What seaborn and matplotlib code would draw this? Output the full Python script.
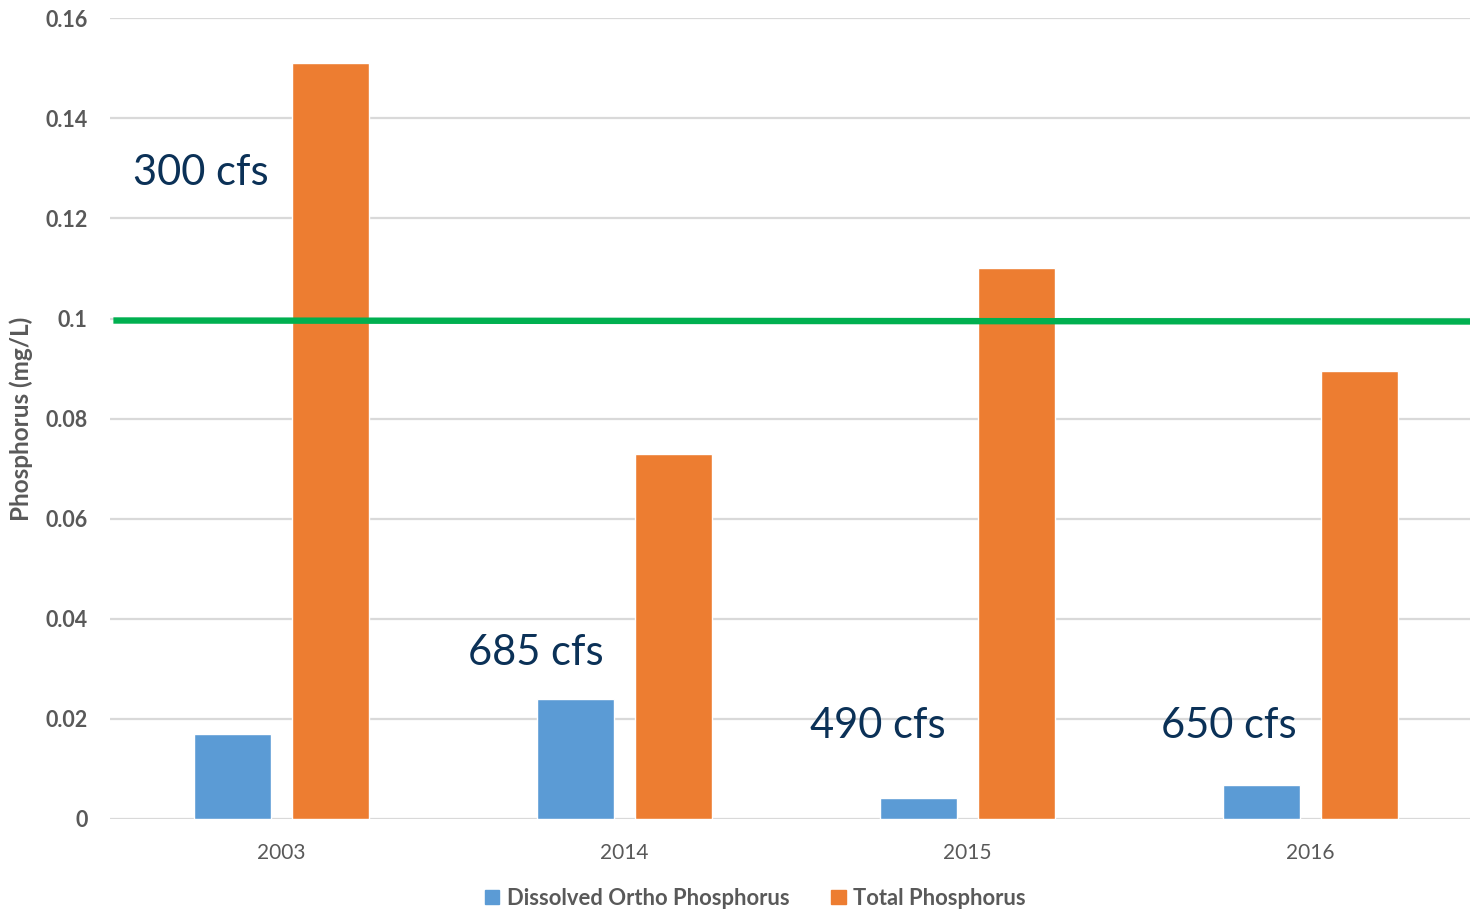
import matplotlib

matplotlib.use("Agg")
import matplotlib.pyplot as plt
import pandas as pd
import seaborn as sns

# --- data -------------------------------------------------------------------
YEARS = ["2003", "2014", "2015", "2016"]
DISSOLVED = [0.017, 0.024, 0.0042, 0.0068]
TOTAL = [0.151, 0.073, 0.110, 0.0896]
FLOWS = ["300 cfs", "685 cfs", "490 cfs", "650 cfs"]
FLOW_Y = [0.1290, 0.0332, 0.0186, 0.0186]
FLOW_X = [-0.236, -0.257, -0.26, -0.239]  # offset from category centre
STANDARD = 0.0995
SERIES = ["Dissolved Ortho Phosphorus", "Total Phosphorus"]
COLORS = ["#5B9BD5", "#ED7D31"]


def main() -> None:
    sns.set_theme(style="white")
    plt.rcParams["font.family"] = ["Lato", "DejaVu Sans"]

    df = pd.DataFrame({
        "year": YEARS * 2,
        "value": DISSOLVED + TOTAL,
        "series": [SERIES[0]] * len(YEARS) + [SERIES[1]] * len(YEARS),
    })

    fig = plt.figure(figsize=(14.7, 9.11), dpi=100)
    # right edge runs a little past the canvas, as in the reference
    ax = fig.add_axes([0.0748, 0.101, 0.9333, 0.879])

    sns.barplot(data=df, x="year", y="value", hue="series", palette=COLORS,
                saturation=1, width=0.57, gap=0.212, ax=ax, legend=False,
                zorder=3)

    ax.set_xlim(-0.5, len(YEARS) - 0.5)
    ax.set_ylim(0, 0.16)
    ax.set_yticks([0, 0.02, 0.04, 0.06, 0.08, 0.1, 0.12, 0.14, 0.16])
    ax.set_yticklabels(["0", "0.02", "0.04", "0.06", "0.08", "0.1",
                        "0.12", "0.14", "0.16"])
    ax.grid(axis="y", color="#D9D9D9", linewidth=1.6, zorder=0)
    ax.set_axisbelow(True)
    for side in ["top", "right", "left", "bottom"]:
        ax.spines[side].set_visible(False)
    ax.tick_params(axis="y", length=0, pad=16, labelsize=15.5, labelcolor="#595959")
    ax.tick_params(axis="x", length=0, pad=17, labelsize=15, labelcolor="#595959")
    for lbl in ax.get_yticklabels():
        lbl.set_fontweight("bold")

    ax.set_xlabel("")
    ax.set_ylabel("Phosphorus (mg/L)", fontsize=17.5, fontweight="bold",
                  color="#595959")
    ax.yaxis.set_label_coords(-0.056, 0.5)

    # standard line at ~0.1 mg/L
    ax.plot([-0.49, len(YEARS) - 0.5], [STANDARD + 0.0001, STANDARD - 0.0001],
            color="#00B050", linewidth=4.6, zorder=4, solid_capstyle="butt")

    for i, (txt, y, dx) in enumerate(zip(FLOWS, FLOW_Y, FLOW_X)):
        ax.text(i + dx, y, txt, fontsize=30, color="#0B3157",
                ha="center", va="center", zorder=5)

    handles = [plt.Rectangle((0, 0), 1, 1, color=c) for c in COLORS]
    leg = fig.legend(handles, SERIES, loc="center", bbox_to_anchor=(0.514, 0.014),
                     ncol=2, frameon=False, handlelength=0.65, handleheight=0.65,
                     handletextpad=0.35, columnspacing=1.9,
                     prop={"size": 15.8, "weight": "bold"})
    for t in leg.get_texts():
        t.set_color("#595959")

    fig.savefig("out.png", dpi=100)
    plt.close(fig)


if __name__ == "__main__":
    main()
